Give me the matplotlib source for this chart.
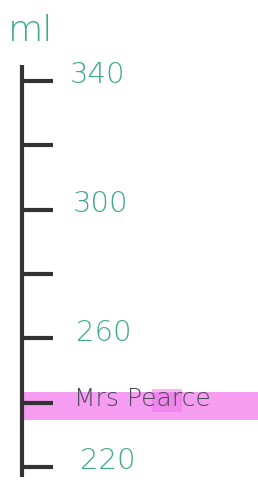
import numpy as np
import matplotlib.pyplot as plt

# Skala (ml) und Beschriftungen
tick_values = [220, 240, 260, 280, 300, 320, 340]
label_values = [220, 260, 300, 340]
label_texts = ['220', '260', '300', '340']
highlight_value = 240
highlight_text = 'Mrs Pearce'
unit = 'ml'

teal = '#3fa98b'
ink = '#333333'

fig = plt.figure(figsize=(2.58, 4.8), dpi=100)
ax = fig.add_axes([0, 0, 1, 1])
ax.set_xlim(0, 258)
ax.set_ylim(215.96, 365.2)
ax.axis('off')

# Markierung (Textmarker)
ax.axhspan(highlight_value - 5.3, highlight_value + 3.2, xmin=20 / 258, xmax=1,
           color='#f58cf0', alpha=0.85, lw=0, zorder=1)
ax.axhspan(highlight_value - 3.0, highlight_value + 4.3, xmin=152 / 258, xmax=182 / 258,
           color='#ec6fe6', alpha=0.5, lw=0, zorder=1)

# Achse und Striche
ax.vlines(22, 216.9, 345, color=ink, lw=3, zorder=2)
ax.hlines(tick_values, 22, 53, color=ink, lw=3, zorder=2)

# Zahlen
for v, t in zip(label_values, label_texts):
    ax.text(70 + (340 - v) * 0.08, v + 1.8, t, color=teal, fontsize=21,
            fontweight='light', va='center', ha='left', zorder=3)

ax.text(74, highlight_value + 1.2, highlight_text, color='#4a4a5a', fontsize=18,
        fontweight='light', va='center', ha='left', zorder=3)

ax.text(8, 355.6, unit, color=teal, fontsize=26, fontweight='light',
        va='center', ha='left', zorder=3)

fig.savefig('out.png', dpi=100)
